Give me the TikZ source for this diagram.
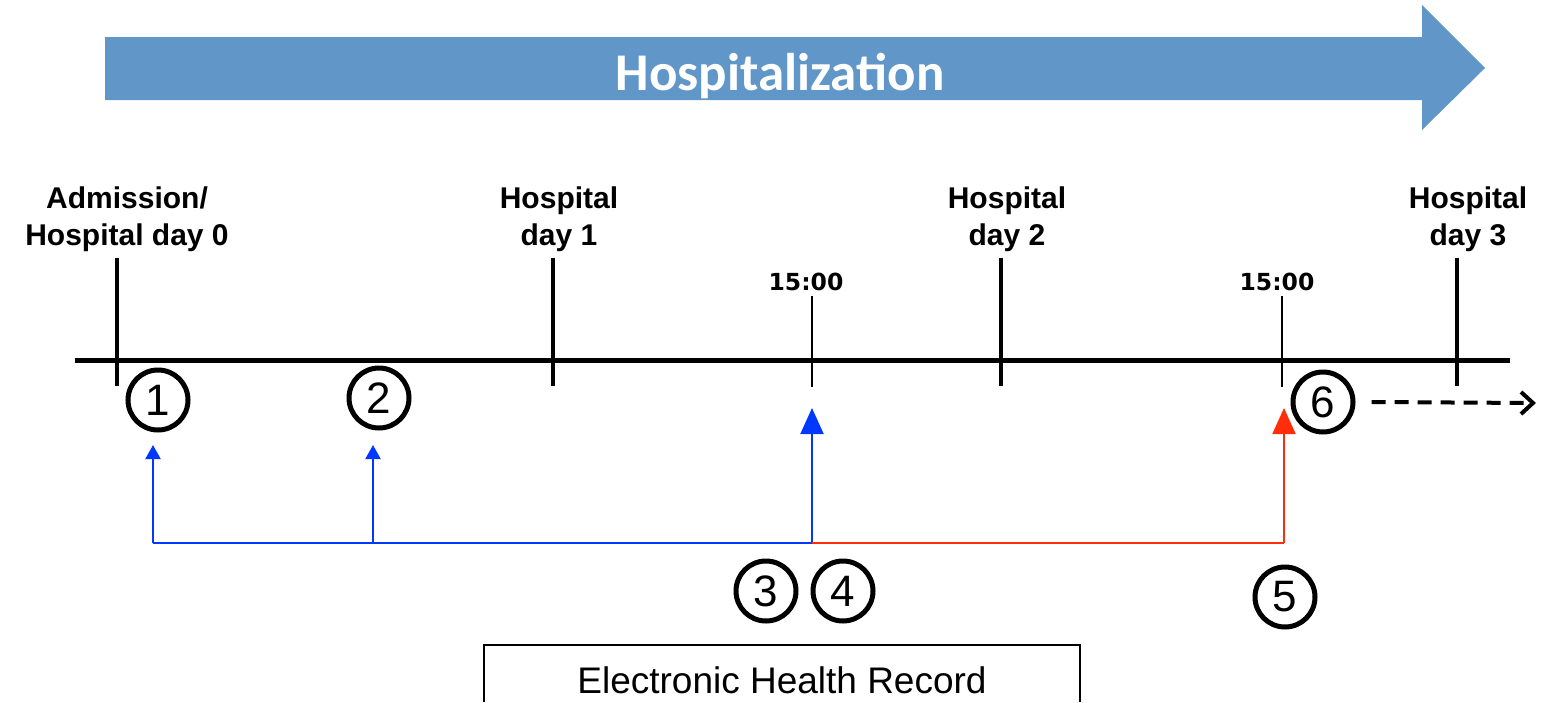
\documentclass[tikz,border=0pt]{standalone}
\usepackage{fontspec}
\setmainfont{Liberation Sans}
\newfontfamily\hosfont{Carlito}
\newfontfamily\timefont{DejaVu Sans}
\usetikzlibrary{arrows.meta}
\definecolor{hosblue}{RGB}{97,150,201}
\definecolor{ptblue}{RGB}{0,56,255}
\definecolor{ptred}{RGB}{255,45,10}
\tikzset{
  major/.style={line width=4pt},
  minor/.style={line width=2.5pt},
  daylabel/.style={align=center,font=\bfseries\fontsize{30}{37}\selectfont,inner sep=0pt},
  timelabel/.style={font=\timefont\bfseries\fontsize{23.5}{25}\selectfont,inner sep=0pt,anchor=base},
  num/.style={circle,draw,line width=5pt,minimum size=60pt,inner sep=0pt,font=\fontsize{44}{44}\selectfont},
  bluearrow/.style={draw=ptblue,line width=2pt},
  redarrow/.style={draw=ptred,line width=2pt},
  smalltip/.style={-{Triangle[length=14pt,width=15pt]}},
  bigtip/.style={-{Triangle[length=26pt,width=23pt]}},
}
\begin{document}
\begin{tikzpicture}[x=1pt,y=-1pt]
\useasboundingbox (0,0) rectangle (1548,702);
% big arrow
\fill[hosblue] (105,37) -- (1422,37) -- (1422,5) -- (1485,68) -- (1422,130) -- (1422,100) -- (105,100) -- cycle;
\node[text=white,anchor=base,inner sep=0pt,font=\hosfont\bfseries\fontsize{53}{53}\selectfont] (title) at (780,90) {Hospitalization};
% timeline
\coordinate (tl0) at (75,360);
\coordinate (tl1) at (1510,360);
\draw[line width=5pt] (tl0) -- (tl1);
\foreach \x/\n in {117/d0,553/d1,1001/d2,1457/d3}{
  \coordinate (\n top) at (\x,258);
  \coordinate (\n bot) at (\x,386);
  \draw[major] (\n top) -- (\n bot);
}
\foreach \x/\n in {812/m1,1282/m2}{
  \coordinate (\n top) at (\x,296);
  \coordinate (\n bot) at (\x,387);
  \draw[minor] (\n top) -- (\n bot);
}
\node[daylabel] (l0) at (127,219) {Admission/\\Hospital day 0};
\node[daylabel] (l1) at (559,219) {Hospital\\day 1};
\node[daylabel] (l2) at (1007,219) {Hospital\\day 2};
\node[daylabel] (l3) at (1468,219) {Hospital\\day 3};
\node[timelabel] (t1) at (806,290) {15:00};
\node[timelabel] (t2) at (1277,290) {15:00};
% numbered circles
\node[num] (c1) at (158,400) {1};
\node[num] (c2) at (379,398) {2};
\node[num] (c3) at (766,591) {3};
\node[num] (c4) at (843,591) {4};
\node[num] (c5) at (1285,597) {5};
\node[num] (c6) at (1323,402) {6};
% connectors
\coordinate (b1) at (153,543);
\coordinate (b2) at (373,543);
\coordinate (b3) at (812,543);
\coordinate (b5) at (1284,543);
\coordinate (a1) at (153,445);
\coordinate (a2) at (373,445);
\coordinate (a3) at (812,408);
\coordinate (a5) at (1284,408);
\draw[bluearrow] (b1) -- (b3);
\draw[bluearrow,smalltip] (b1) -- (a1);
\draw[bluearrow,smalltip] (b2) -- (a2);
\draw[bluearrow,bigtip] (b3) -- (a3);
\draw[redarrow] (b3) -- (b5);
\draw[redarrow,bigtip] (b5) -- (a5);
\coordinate (dend) at (1533,403);
\draw[line width=4pt,dash pattern=on 14pt off 9pt] (c6.east) ++(16,0) -- (dend);
\draw[line width=4pt,line join=miter] (dend) ++(-12,-11) -- (dend) -- ++(-12,11);
% EHR box
\coordinate (e1) at (484,702);
\coordinate (e2) at (484,645);
\coordinate (e3) at (1080,645);
\coordinate (e4) at (1080,702);
\draw[line width=2pt] (e1) -- (e2) -- (e3) -- (e4);
\node[anchor=base,inner sep=0pt,font=\fontsize{37}{37}\selectfont] (ehr) at (782,693) {Electronic Health Record};
\end{tikzpicture}
\end{document}
